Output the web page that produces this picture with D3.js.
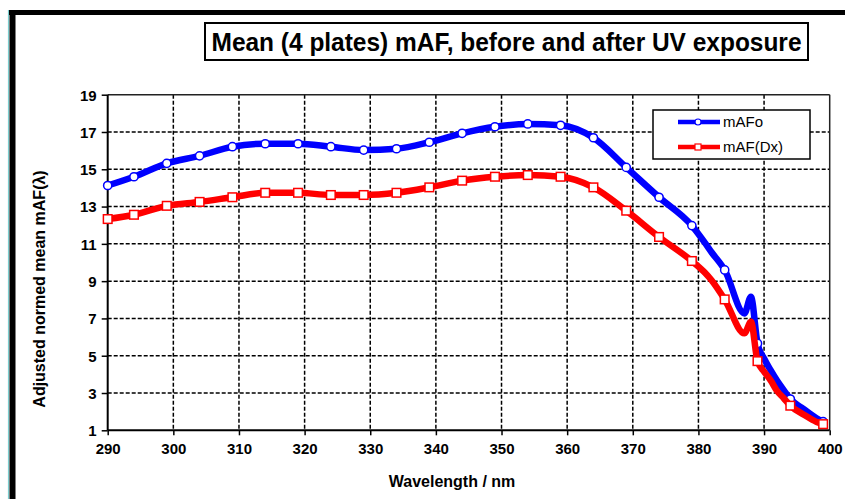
<!DOCTYPE html>
<html>
<head>
<meta charset="utf-8">
<script src="https://cdn.jsdelivr.net/npm/d3@7/dist/d3.min.js"></script>
<style>
  html, body { margin: 0; padding: 0; background: #fff; }
  svg { display: block; }
  text { font-family: Arial, "Liberation Sans", Helvetica, sans-serif; }
</style>
</head>
<body>
<svg id="chart" width="845" height="499"></svg>
<script>
// ---- data ----
const titleText = "Mean (4 plates) mAF, before and after UV exposure";
const xTitle = "Wavelength / nm";
const yTitle = "Adjusted normed mean mAF(\u03bb)";
const seriesNames = ["mAFo", "mAF(Dx)"];
const xTicks = [290, 300, 310, 320, 330, 340, 350, 360, 370, 380, 390, 400];
const yTicks = [1, 3, 5, 7, 9, 11, 13, 15, 17, 19];
const wavelength = [290, 294, 299, 304, 309, 314, 319, 324, 329, 334, 339, 344, 349, 354, 359, 364, 369, 374, 379, 381, 382, 384, 387, 388, 389, 390, 391, 392, 393, 394, 396, 398, 399];
const mAFo = [14.13, 14.6, 15.32, 15.72, 16.21, 16.37, 16.37, 16.21, 16.03, 16.1, 16.45, 16.93, 17.28, 17.43, 17.36, 16.69, 15.1, 13.5, 11.98, 11.05, 10.55, 9.6, 7.27, 8.16, 5.66, 4.85, 4.22, 3.65, 3.15, 2.68, 2.15, 1.65, 1.46];
const mAFDx = [12.33, 12.56, 13.04, 13.25, 13.5, 13.74, 13.74, 13.62, 13.62, 13.74, 14.03, 14.39, 14.6, 14.69, 14.6, 14.03, 12.78, 11.37, 10.08, 9.45, 9.05, 8.02, 6.2, 6.82, 4.71, 4.15, 3.68, 3.1, 2.72, 2.32, 1.85, 1.45, 1.33];
const markerWavelengths = [290, 294, 299, 304, 309, 314, 319, 324, 329, 334, 339, 344, 349, 354, 359, 364, 369, 374, 379, 384, 389, 394, 399];

// ---- layout ----
const svg = d3.select("#chart");
const plot = { left: 107.7, right: 829.7, top: 94.7, bottom: 430.3 };
const x = d3.scaleLinear().domain([290, 400]).range([plot.left, plot.right]);
const y = d3.scaleLinear().domain([1, 19]).range([plot.bottom, plot.top]);

svg.append("rect").attr("width", 845).attr("height", 499).attr("fill", "#fff");

// outer frame
svg.append("line").attr("x1", 8.5).attr("x2", 8.5).attr("y1", 10).attr("y2", 499)
  .attr("stroke", "#7ccfd0").attr("stroke-width", 1.2);
svg.append("line").attr("x1", 9).attr("x2", 845).attr("y1", 12.5).attr("y2", 12.5)
  .attr("stroke", "#000").attr("stroke-width", 5);
svg.append("line").attr("x1", 12.5).attr("x2", 12.5).attr("y1", 10).attr("y2", 499)
  .attr("stroke", "#000").attr("stroke-width", 6);

// title box
svg.append("rect").attr("x", 205).attr("y", 23).attr("width", 603).attr("height", 37)
  .attr("fill", "#fff").attr("stroke", "#000").attr("stroke-width", 2);
svg.append("text").attr("x", 506.5).attr("y", 50.5)
  .attr("text-anchor", "middle")
  .style("font-family", "'Liberation Sans Narrow', 'Arial Narrow', Arial, sans-serif")
  .style("font-weight", "bold").style("font-size", "26px")
  .attr("textLength", 590).attr("lengthAdjust", "spacingAndGlyphs")
  .text(titleText);

// gridlines
const grid = svg.append("g");
grid.selectAll(".vg").data(xTicks.filter(d => d > 290 && d < 400)).join("line")
  .attr("x1", d => x(d)).attr("x2", d => x(d)).attr("y1", plot.top).attr("y2", plot.bottom)
  .attr("stroke", "#000").attr("stroke-width", 1.5).attr("stroke-dasharray", "4,2");
grid.selectAll(".hg").data(yTicks.filter(d => d > 1 && d < 19)).join("line")
  .attr("x1", plot.left).attr("x2", plot.right).attr("y1", d => y(d)).attr("y2", d => y(d))
  .attr("stroke", "#000").attr("stroke-width", 1.5).attr("stroke-dasharray", "4,2");

// frame top/right
svg.append("line").attr("x1", plot.left).attr("x2", plot.right).attr("y1", plot.top).attr("y2", plot.top)
  .attr("stroke", "#222").attr("stroke-width", 1.5);
svg.append("line").attr("x1", plot.right).attr("x2", plot.right).attr("y1", plot.top).attr("y2", plot.bottom)
  .attr("stroke", "#222").attr("stroke-width", 1.5);

// axes
const xAxis = d3.axisBottom(x).tickValues(xTicks).tickSize(5).tickPadding(8).tickFormat(d3.format("d"));
const yAxis = d3.axisLeft(y).tickValues(yTicks).tickSize(6).tickPadding(5).tickFormat(d3.format("d"));
const gx = svg.append("g").attr("transform", `translate(0,${plot.bottom})`).call(xAxis);
const gy = svg.append("g").attr("transform", `translate(${plot.left},0)`).call(yAxis);
[gx, gy].forEach(g => {
  g.select(".domain").attr("stroke", "#000").attr("stroke-width", 2);
  g.selectAll(".tick line").attr("stroke", "#000").attr("stroke-width", 1.5);
  g.selectAll(".tick text").attr("fill", "#000")
    .style("font-family", "Arial, 'Liberation Sans', sans-serif")
    .style("font-weight", "bold").style("font-size", "15px");
});
gx.select(".domain").attr("d", `M${plot.left},0H${plot.right}`);
gy.select(".domain").attr("d", `M0,${plot.bottom}V${plot.top}`);
gy.selectAll(".tick text").attr("dy", "0.36em");

// axis titles
svg.append("text").attr("x", 452).attr("y", 486.5).attr("text-anchor", "middle")
  .style("font-weight", "bold").style("font-size", "16px").text(xTitle);
svg.append("text").attr("transform", "translate(45,289) rotate(-90)").attr("text-anchor", "middle")
  .style("font-weight", "bold").style("font-size", "16px").text(yTitle);

// series
const blue = "#0000ff", red = "#ff0000";
const line = d3.line().x(d => x(d[0])).y(d => y(d[1])).curve(d3.curveMonotoneX);
const blueData = wavelength.map((w, i) => [w, mAFo[i]]);
const redData = wavelength.map((w, i) => [w, mAFDx[i]]);
const isMarker = d => markerWavelengths.includes(d[0]);

svg.append("path").datum(blueData).attr("d", line).attr("fill", "none")
  .attr("stroke", blue).attr("stroke-width", 6.5).attr("stroke-linejoin", "round");
svg.append("g").selectAll("circle").data(blueData.filter(isMarker)).join("circle")
  .attr("cx", d => x(d[0])).attr("cy", d => y(d[1])).attr("r", 4.1)
  .attr("fill", "#fff").attr("stroke", blue).attr("stroke-width", 1.5);

svg.append("path").datum(redData).attr("d", line).attr("fill", "none")
  .attr("stroke", red).attr("stroke-width", 6.5).attr("stroke-linejoin", "round");
svg.append("g").selectAll("rect").data(redData.filter(isMarker)).join("rect")
  .attr("x", d => x(d[0]) - 4.3).attr("y", d => y(d[1]) - 4.3).attr("width", 8.6).attr("height", 8.6)
  .attr("fill", "#fff").attr("stroke", red).attr("stroke-width", 1.5);

// legend
const lg = svg.append("g");
lg.append("rect").attr("x", 653).attr("y", 110).attr("width", 157).attr("height", 49)
  .attr("fill", "#fff").attr("stroke", "#000").attr("stroke-width", 1.5);
const legendRows = [
  { name: seriesNames[0], color: blue, yy: 122, shape: "circle" },
  { name: seriesNames[1], color: red, yy: 147, shape: "rect" }
];
legendRows.forEach(r => {
  lg.append("line").attr("x1", 678).attr("x2", 720).attr("y1", r.yy).attr("y2", r.yy)
    .attr("stroke", r.color).attr("stroke-width", 4.5);
  if (r.shape === "circle") {
    lg.append("circle").attr("cx", 698).attr("cy", r.yy).attr("r", 3)
      .attr("fill", "#fff").attr("stroke", r.color).attr("stroke-width", 1.2);
  } else {
    lg.append("rect").attr("x", 695).attr("y", r.yy - 3).attr("width", 6).attr("height", 6)
      .attr("fill", "#fff").attr("stroke", r.color).attr("stroke-width", 1.2);
  }
  lg.append("text").attr("x", 723).attr("y", r.yy + 5)
    .style("font-size", "15px").attr("fill", "#000").text(r.name);
});
</script>
</body>
</html>
